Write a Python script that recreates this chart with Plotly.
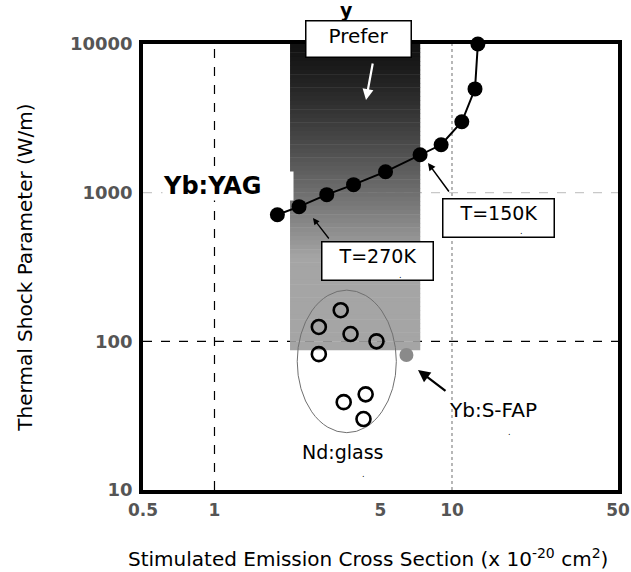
import numpy as np
import plotly.graph_objects as go

# ---------------- data ----------------
yag_x = [1.84, 2.27, 2.97, 3.85, 5.25, 7.34, 9.0, 11.0, 12.5, 12.85]
yag_y = [711, 805, 970, 1132, 1384, 1799, 2099, 2998, 4990, 10000]

ndglass_x = [3.40, 2.75, 3.74, 4.81, 2.75, 3.50, 4.33, 4.24]
ndglass_y = [162, 125, 112, 100, 82, 39, 44, 30]

sfap_x = [6.43]
sfap_y = [81]

x_ticks = [0.5, 1, 5, 10, 50]
y_ticks = [10, 100, 1000, 10000]

prefer_x = [2.08, 7.35]      # preferred region (x range)
prefer_y = [87, 10000]       # preferred region (y range)
ellipse_x = [2.23, 5.83]
ellipse_y = [24.3, 221]

FONT = "DejaVu Sans, sans-serif"

fig = go.Figure()

fig.add_trace(go.Scatter(
    x=yag_x, y=yag_y, mode="lines+markers",
    line=dict(color="black", width=2),
    marker=dict(color="black", size=15, line=dict(width=0)),
    showlegend=False, cliponaxis=False))

fig.add_trace(go.Scatter(
    x=ndglass_x, y=ndglass_y, mode="markers",
    marker=dict(symbol="circle-open", color="black", size=14, line=dict(width=2.6)),
    showlegend=False))

fig.add_trace(go.Scatter(
    x=sfap_x, y=sfap_y, mode="markers",
    marker=dict(color="#8a8a8a", size=14, line=dict(width=0)),
    showlegend=False))

shapes = []
# faint background guide lines
shapes.append(dict(type="line", xref="paper", x0=0, x1=1, yref="y", y0=1000, y1=1000,
                   line=dict(color="#c8c8c8", width=1.2, dash="dash"), layer="below"))
shapes.append(dict(type="line", xref="x", x0=10, x1=10, yref="paper", y0=0, y1=1,
                   line=dict(color="#a0a0a0", width=1.5, dash="dot"), layer="below"))
# gradient "prefer" region
N = 70
y0l, y1l = np.log10(prefer_y[0]), np.log10(prefer_y[1])
for i in range(N):
    a = y1l - (y1l - y0l) * i / N
    b = y1l - (y1l - y0l) * (i + 1) / N
    t = (i + 0.5) / N
    g = int(18 + 147 * min(1.0, t / 0.7) ** 1.25)
    shapes.append(dict(type="rect", xref="x", yref="y",
                       x0=prefer_x[0], x1=prefer_x[1], y0=10 ** b, y1=10 ** (a + 0.003),
                       fillcolor=f"rgb({g},{g},{g})", line=dict(width=0), layer="below"))
# dark dashed guide lines
shapes.append(dict(type="line", xref="paper", x0=0, x1=1, yref="y", y0=100, y1=100,
                   line=dict(color="black", width=1.2, dash="dash"), layer="below"))
shapes.append(dict(type="line", xref="x", x0=1, x1=1, yref="paper", y0=0, y1=1,
                   line=dict(color="black", width=1.2, dash="dash"), layer="below"))
# ellipse around Nd:glass
shapes.append(dict(type="circle", xref="x", yref="y",
                   x0=ellipse_x[0], x1=ellipse_x[1], y0=ellipse_y[0], y1=ellipse_y[1],
                   line=dict(color="#707070", width=1), layer="below"))

W, H = 631, 572
ML, MR, MT, MB = 143, 13, 44, 82
PW, PH = W - ML - MR, H - MT - MB


def X(px):
    return (px - ML) / PW


def Y(py):
    return (H - MB - py) / PH


ann = []
C = dict(xanchor="center", yanchor="middle")


def box(text, cx, cy, w, h, size=19, valign="top"):
    ann.append(dict(text=text, xref="paper", yref="paper", x=X(cx), y=Y(cy),
                    showarrow=False, bgcolor="white", bordercolor="black",
                    borderwidth=1.5, borderpad=2, width=w, height=h, valign=valign,
                    font=dict(family=FONT, size=size, color="black"), **C))


def arrow(tx, ty, ax, ay, color="black", width=1.5, head=2, hs=1.0):
    ann.append(dict(text="", xref="paper", yref="paper", x=X(tx), y=Y(ty),
                    ax=ax, ay=ay, showarrow=True, arrowcolor=color, arrowwidth=width,
                    arrowhead=head, arrowsize=hs, **C))


def label(text, cx, cy, size=19, bold=False):
    t = f"<b>{text}</b>" if bold else text
    ann.append(dict(text=t, xref="paper", yref="paper", x=X(cx), y=Y(cy), showarrow=False,
                    font=dict(family=FONT, size=size, color="black"), **C))


# title fragment at the very top
label("y", 346, 10, size=19, bold=True)

box("Prefer", 358, 39, 100, 31, size=20)
arrow(366, 100, 7, -38, color="white", width=2.2, head=2, hs=1.0)

ann.append(dict(text="<b>Yb:YAG</b>", xref="paper", yref="paper", x=X(228), y=Y(186),
                showarrow=False, bgcolor="white", borderpad=0, width=130, height=28,
                align="left", font=dict(family=FONT, size=24, color="black"), **C))

box("T=150K", 498, 218, 106, 33)
arrow(428, 163, 22, 30, width=1.5, head=2, hs=1.0)
box("T=270K", 377, 261, 106, 33)
arrow(313, 218, 17, 22, width=1.3, head=2, hs=1.0)

label("Yb:S-FAP", 493, 410, size=20)
arrow(418, 370, 29, 22, width=2.2, head=2, hs=1.1)
label("Nd:glass", 342, 452, size=19)

for (dx, dy) in [(521, 231), (400, 275), (509, 432), (363, 474)]:
    label(".", dx, dy, size=8)

# x-axis title (placed as text to match the reference's offset)
ann.append(dict(text="Stimulated Emission Cross Section (x 10<sup>-20</sup> cm<sup>2</sup>)",
                xref="paper", yref="paper", x=X(368), y=Y(558), showarrow=False,
                font=dict(family=FONT, size=20, color="black"), **C))

fig.update_layout(
    width=W, height=H,
    margin=dict(l=ML, r=MR, t=MT, b=MB, autoexpand=False),
    paper_bgcolor="white", plot_bgcolor="white",
    showlegend=False,
    shapes=shapes, annotations=ann,
    font=dict(family=FONT, color="black"),
    xaxis=dict(type="log", range=[np.log10(0.5), np.log10(50)], tickvals=x_ticks,
               ticktext=[str(v) for v in x_ticks], showgrid=False, zeroline=False,
               showline=True, linecolor="black", linewidth=3.5, mirror=True,
               layer="below traces", ticks="", ticklabelstandoff=2,
               tickfont=dict(family=FONT, size=17, color="#555555", weight="bold"),
               ticklabeloverflow="allow", automargin=False),
    yaxis=dict(type="log", range=[np.log10(10), np.log10(10000)], tickvals=y_ticks,
               ticktext=[str(v) for v in y_ticks], showgrid=False, zeroline=False,
               showline=True, linecolor="black", linewidth=3.5, mirror=True,
               layer="below traces", ticks="", ticklabelstandoff=3,
               tickfont=dict(family=FONT, size=18, color="#555555", weight="bold"),
               ticklabeloverflow="allow", automargin=False,
               title=dict(text="Thermal Shock Parameter (W/m)",
                          font=dict(family=FONT, size=20, color="black"), standoff=33)),
)

fig.write_html("out.html")
